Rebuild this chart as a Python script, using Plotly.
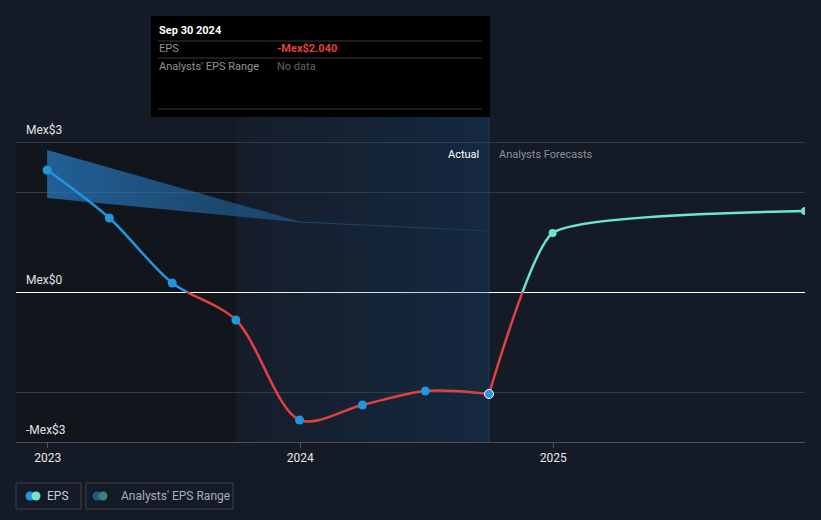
import plotly.graph_objects as go

# ---------------- data ----------------
actual_dates = ["2022-12-31", "2023-03-31", "2023-06-30", "2023-09-30",
                "2023-12-31", "2024-03-31", "2024-06-30", "2024-09-30"]
actual_eps = [2.44, 1.48, 0.18, -0.56, -2.56, -2.26, -1.98, -2.04]

forecast_dates = ["2024-09-30", "2024-12-31", "2025-12-31"]
forecast_eps = [-2.04, 1.18, 1.62]

range_dates = ["2022-12-31", "2023-12-31", "2024-09-30"]
range_high = [2.84, 1.41, 1.23]
range_low = [1.88, 1.39, 1.21]

past_region = ["2022-11-16", "2023-09-30"]
actual_region = ["2023-09-30", "2024-09-30"]

x_ticks = ["2023-01-01", "2024-01-01", "2025-01-01"]
x_tick_labels = ["2023", "2024", "2025"]
y_labels = {3: "Mex$3", 0: "Mex$0", -3: "-Mex$3"}
grid_vals = [-2, 2, 3]

X_RANGE = ["2022-11-16", "2025-12-31"]
Y_MIN, Y_MAX = -3.0, 3.5

# ---------------- style ----------------
BG = "#151b26"
BLUE = "#2394df"
RED = "#e3413f"
TEAL = "#6ee6cf"
FONT = "Roboto"
CLEAR = "rgba(0,0,0,0)"

W, H = 821, 520
L, R, T, B = 16, 16, 117, 78
PW, PH = W - L - R, H - T - B


def px(x):
    return (x - L) / PW


def py(y):
    return (H - B - y) / PH


zero_frac = (0 - Y_MIN) / (Y_MAX - Y_MIN)

fig = go.Figure()

# actual-period highlighted region (horizontal gradient)
fig.add_trace(go.Scatter(
    x=[actual_region[0], actual_region[1], actual_region[1], actual_region[0], actual_region[0]],
    y=[Y_MIN, Y_MIN, Y_MAX, Y_MAX, Y_MIN],
    mode="lines", line=dict(width=0), fill="toself",
    fillgradient=dict(type="horizontal",
                      colorscale=[[0, "rgba(20,70,120,0.04)"], [1, "rgba(20,70,120,0.32)"]]),
    hoverinfo="skip", showlegend=False))

# analysts' EPS range band
fig.add_trace(go.Scatter(
    x=range_dates + range_dates[::-1],
    y=range_high + range_low[::-1],
    mode="lines", line=dict(width=0), fill="toself",
    fillgradient=dict(type="horizontal",
                      colorscale=[[0, "rgba(38,120,190,0.75)"], [0.5, "rgba(38,120,190,0.45)"],
                                  [1, "rgba(38,120,190,0.25)"]]),
    hoverinfo="skip", showlegend=False))

# upper (positive) clipped lines
fig.add_trace(go.Scatter(x=actual_dates, y=actual_eps, mode="lines", yaxis="y2",
                         line=dict(color=BLUE, width=2.5, shape="spline", smoothing=0.9),
                         hoverinfo="skip", showlegend=False))
fig.add_trace(go.Scatter(x=forecast_dates, y=forecast_eps, mode="lines", yaxis="y2",
                         line=dict(color=TEAL, width=2.5, shape="spline", smoothing=0.45),
                         hoverinfo="skip", showlegend=False))
# lower (negative) clipped lines
fig.add_trace(go.Scatter(x=actual_dates, y=actual_eps, mode="lines", yaxis="y3",
                         line=dict(color=RED, width=2.5, shape="spline", smoothing=0.9),
                         hoverinfo="skip", showlegend=False))
fig.add_trace(go.Scatter(x=forecast_dates, y=forecast_eps, mode="lines", yaxis="y3",
                         line=dict(color=RED, width=2.5, shape="spline", smoothing=0.45),
                         hoverinfo="skip", showlegend=False))

# markers (own full-height subplot drawn on top)
fig.add_trace(go.Scatter(x=actual_dates[:-1], y=actual_eps[:-1], mode="markers", yaxis="y4",
                         marker=dict(color=BLUE, size=9), hoverinfo="skip", showlegend=False))
fig.add_trace(go.Scatter(x=[actual_dates[-1]], y=[actual_eps[-1]], mode="markers", yaxis="y4",
                         marker=dict(color=BLUE, size=9, line=dict(color="white", width=1)),
                         hoverinfo="skip", showlegend=False))
fig.add_trace(go.Scatter(x=forecast_dates[1:], y=forecast_eps[1:], mode="markers", yaxis="y4",
                         marker=dict(color=TEAL, size=8), hoverinfo="skip", showlegend=False))

shapes = []
# darker past region
shapes.append(dict(type="rect", xref="x", yref="y", x0=past_region[0], x1=past_region[1],
                   y0=Y_MIN, y1=3, fillcolor="#11151c", line=dict(width=0), layer="below"))
# vertical divider at end of actual
shapes.append(dict(type="line", xref="x", yref="paper", x0=actual_region[1], x1=actual_region[1],
                   y0=0, y1=1, line=dict(color="#1d3a56", width=1), layer="below"))

# tooltip box
shapes.append(dict(type="rect", xref="paper", yref="paper", x0=px(151), x1=px(490),
                   y0=py(117), y1=py(16), fillcolor="#000000", line=dict(width=0), layer="above"))
for yy in (41, 58, 109):
    shapes.append(dict(type="line", xref="paper", yref="paper", x0=px(158), x1=px(482),
                       y0=py(yy), y1=py(yy), line=dict(color="#3b3b3b", width=1), layer="above"))

# legend boxes
shapes.append(dict(type="rect", xref="paper", yref="paper", x0=px(16), x1=px(81),
                   y0=py(509), y1=py(483), line=dict(color="#3d434c", width=1),
                   fillcolor=CLEAR))
shapes.append(dict(type="rect", xref="paper", yref="paper", x0=px(86), x1=px(233),
                   y0=py(509), y1=py(483), line=dict(color="#3d434c", width=1),
                   fillcolor=CLEAR))


def circle(cx, cy, r, color):
    return dict(type="circle", xref="paper", yref="paper",
                x0=px(cx - r), x1=px(cx + r), y0=py(cy + r), y1=py(cy - r),
                fillcolor=color, line=dict(width=0))


shapes += [circle(30, 496, 4.5, BLUE), circle(36, 496, 4.5, TEAL),
           circle(97, 496, 4.5, "#1d5a8a"), circle(103, 496, 4.5, "#3a827a")]

annotations = []
for v, t in y_labels.items():
    annotations.append(dict(x=px(24), xref="paper", y=v, yref="y", yshift=12, text=t,
                            showarrow=False, xanchor="left", yanchor="middle",
                            font=dict(family=FONT, size=12, color="#e2e4e8")))

annotations.append(dict(x=px(481), xref="paper", y=py(154), yref="paper", text="Actual",
                        showarrow=False, xanchor="right", yanchor="middle",
                        font=dict(family=FONT, size=11, color="#ffffff")))
annotations.append(dict(x=px(497), xref="paper", y=py(154), yref="paper", text="Analysts Forecasts",
                        showarrow=False, xanchor="left", yanchor="middle",
                        font=dict(family=FONT, size=11, color="#8c9099")))

# tooltip texts
annotations += [
    dict(x=px(157), y=py(31), text="<b>Sep 30 2024</b>", font=dict(size=11, color="#ffffff")),
    dict(x=px(157), y=py(49), text="EPS", font=dict(size=11, color="#8f9399")),
    dict(x=px(275), y=py(49), text="<b>-Mex$2.040</b>", font=dict(size=11, color="#e8403f")),
    dict(x=px(157), y=py(66), text="Analysts' EPS Range", font=dict(size=11, color="#8f9399")),
    dict(x=px(275), y=py(66), text="No data", font=dict(size=11, color="#5f636a")),
]
for a in annotations[-5:]:
    a.update(xref="paper", yref="paper", showarrow=False, xanchor="left", yanchor="middle")
    a["font"]["family"] = FONT

# legend texts
annotations.append(dict(x=px(45), xref="paper", y=py(496), yref="paper", text="EPS",
                        showarrow=False, xanchor="left", yanchor="middle",
                        font=dict(family=FONT, size=12, color="#c9cdd3")))
annotations.append(dict(x=px(119), xref="paper", y=py(496), yref="paper", text="Analysts' EPS Range",
                        showarrow=False, xanchor="left", yanchor="middle",
                        font=dict(family=FONT, size=12, color="#a8adb5")))

fig.update_layout(
    width=W, height=H,
    margin=dict(l=L, r=R, t=T, b=B),
    paper_bgcolor=BG, plot_bgcolor=CLEAR,
    showlegend=False,
    hovermode=False,
    font=dict(family=FONT, color="#e2e4e8"),
    xaxis=dict(type="date", range=X_RANGE, tickvals=x_ticks, ticktext=x_tick_labels,
               showgrid=False, zeroline=False, showline=True, linecolor="#4a4f58", linewidth=1,
               ticks="outside", ticklen=5, tickcolor="#4a4f58",
               tickfont=dict(family=FONT, size=12, color="#e6e8ec"), anchor="y"),
    yaxis=dict(range=[Y_MIN, Y_MAX], domain=[0, 1], tickvals=grid_vals, showticklabels=False,
               showgrid=True, gridcolor="#343a44", gridwidth=1,
               zeroline=True, zerolinecolor="#ffffff", zerolinewidth=1, fixedrange=True),
    yaxis2=dict(range=[0, Y_MAX], domain=[zero_frac, 1], anchor="x", visible=False),
    yaxis3=dict(range=[Y_MIN, 0], domain=[0, zero_frac], anchor="x", visible=False),
    yaxis4=dict(range=[Y_MIN, Y_MAX], domain=[0, 1], anchor="x", visible=False),
    shapes=shapes,
    annotations=annotations,
)

fig.write_html("out.html", config={"displayModeBar": False},
               post_script="document.body.style.margin='0';document.body.style.background='%s';" % BG)
